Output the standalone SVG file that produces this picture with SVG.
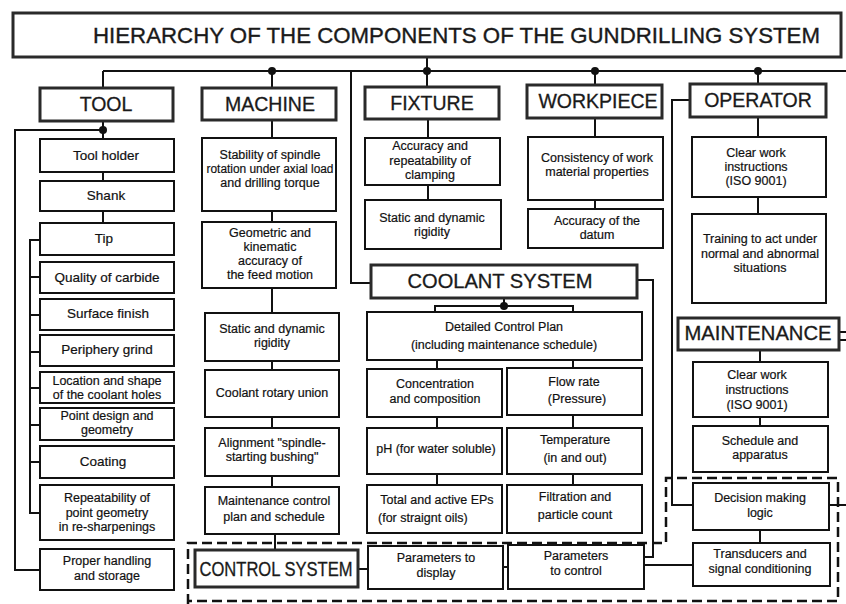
<svg xmlns="http://www.w3.org/2000/svg" width="846" height="604" viewBox="0 0 846 604">
<style>
.hdr{fill:#fff;stroke:#2a2a2a;stroke-width:3}
.box{fill:#fff;stroke:#111;stroke-width:2}
.ht{font-family:"Liberation Sans",Arial,sans-serif;font-size:19.5px;fill:#1a1a1a;stroke:#1a1a1a;stroke-width:0.3;text-anchor:middle}
.t{font-family:"Liberation Sans",Arial,sans-serif;font-size:12.5px;fill:#111;stroke:#111;stroke-width:0.2;text-anchor:middle}
.tb{font-family:"Liberation Sans",Arial,sans-serif;font-size:13.5px;fill:#111;stroke:#111;stroke-width:0.2;text-anchor:middle}
.ln{fill:none;stroke:#111;stroke-width:2}
.dash{fill:none;stroke:#111;stroke-width:2.5;stroke-dasharray:10 5}
.dot{fill:#111}
</style>
<rect width="846" height="604" fill="#fff"/>

<g id="connectors">
  <path class="ln" d="M103 71H846"/>
  <path class="ln" d="M427 57V87"/>
  <path class="ln" d="M103 71V88M272 71V88M595 71V85M758 71V84"/>
  <path class="ln" d="M351 71V283H371"/>
  <circle class="dot" cx="272" cy="71" r="4"/>
  <circle class="dot" cx="427" cy="71" r="4"/>
  <circle class="dot" cx="595" cy="71" r="4"/>
  <circle class="dot" cx="758" cy="71" r="4"/>
  <path class="ln" d="M103 121V139M103 172V181M103 211V223"/>
  <circle class="dot" cx="103" cy="130" r="4"/>
  <path class="ln" d="M103 130H15V570H40"/>
  <path class="ln" d="M40 240H30V513H40M30 277H40M30 315H40M30 352H40M30 388H40M30 425H40M30 462H40"/>
  <path class="ln" d="M272 120V138M272 211V222M272 288V313M272 361V370M272 417V428M272 476V487M275 534V550"/>
  <path class="ln" d="M428 119V138M428 185V200"/>
  <path class="ln" d="M595 118V137M595 200V209"/>
  <path class="ln" d="M758 117V137M758 197V214"/>
  <path class="ln" d="M690 100H672V505H693"/>
  <path class="ln" d="M504 298V306M435 312V306H573V312"/>
  <circle class="dot" cx="504" cy="306" r="4"/>
  <path class="ln" d="M437 360V369M437 417V428M437 474V485M573 360V368M573 415V428M573 474V485"/>
  <path class="ln" d="M637 280H653V557H644"/>
  <path class="ln" d="M644 565H693"/>
  <path class="ln" d="M358 569H368M503 567H508"/>
  <path class="ln" d="M839 332H846M839 340H846"/>
  <path class="ln" d="M760 350V362M760 417V426"/>
  <path class="ln" d="M760 530V543M829 505H846"/>
  <path class="dash" d="M188 604V543H666V478H838V601H188"/>
</g>

<g id="title">
  <rect class="hdr" x="13" y="13" width="828" height="44"/>
  <text x="93" y="43" font-family="Liberation Sans,Arial,sans-serif" font-size="22" fill="#1a1a1a" stroke="#1a1a1a" stroke-width="0.35" textLength="727" lengthAdjust="spacingAndGlyphs">HIERARCHY OF THE COMPONENTS OF THE GUNDRILLING SYSTEM</text>
</g>

<g id="tool">
  <rect class="hdr" x="40" y="88" width="133" height="33"/>
  <text class="ht" x="106" y="111">TOOL</text>
</g>
<g id="machine">
  <rect class="hdr" x="202" y="88" width="134" height="32"/>
  <text class="ht" x="270" y="111">MACHINE</text>
</g>
<g id="fixture">
  <rect class="hdr" x="365" y="87" width="134" height="32"/>
  <text class="ht" x="432" y="110">FIXTURE</text>
</g>
<g id="workpiece">
  <rect class="hdr" x="527" y="85" width="135" height="33"/>
  <text class="ht" x="598" y="108">WORKPIECE</text>
</g>
<g id="operator">
  <rect class="hdr" x="690" y="84" width="136" height="33"/>
  <text class="ht" x="758" y="107">OPERATOR</text>
</g>

<g id="tool-holder"><rect class="box" x="40" y="139" width="134" height="33"/><text class="tb" x="106" y="160">Tool holder</text></g>
<g id="shank"><rect class="box" x="40" y="181" width="134" height="30"/><text class="tb" x="106" y="200">Shank</text></g>
<g id="tip"><rect class="box" x="40" y="223" width="134" height="32"/><text class="tb" x="104" y="243">Tip</text></g>
<g id="quality"><rect class="box" x="40" y="262" width="134" height="31"/><text class="tb" x="107" y="282">Quality of carbide</text></g>
<g id="surface"><rect class="box" x="40" y="299" width="134" height="31"/><text class="tb" x="108" y="318">Surface finish</text></g>
<g id="periphery"><rect class="box" x="40" y="335" width="134" height="31"/><text class="tb" x="107" y="354">Periphery grind</text></g>
<g id="location"><rect class="box" x="40" y="372" width="134" height="31"/><text class="t" x="107" y="385">Location and shape</text><text class="t" x="107" y="399">of the coolant holes</text></g>
<g id="point-design"><rect class="box" x="40" y="408" width="134" height="32"/><text class="t" x="107" y="420">Point design and</text><text class="t" x="107" y="434">geometry</text></g>
<g id="coating"><rect class="box" x="40" y="446" width="134" height="32"/><text class="tb" x="103" y="466">Coating</text></g>
<g id="repeatability"><rect class="box" x="40" y="485" width="134" height="55"/><text class="t" x="107" y="502">Repeatability of</text><text class="t" x="107" y="517">point geometry</text><text class="t" x="107" y="531">in re-sharpenings</text></g>
<g id="handling"><rect class="box" x="40" y="549" width="134" height="41"/><text class="t" x="107" y="565">Proper handling</text><text class="t" x="107" y="580">and storage</text></g>

<g id="stability"><rect class="box" x="202" y="138" width="134" height="73"/><text class="t" x="270" y="159">Stability of spindle</text><text class="t" x="270" y="173" textLength="127" lengthAdjust="spacingAndGlyphs">rotation under axial load</text><text class="t" x="270" y="187">and drilling torque</text></g>
<g id="geometric"><rect class="box" x="202" y="222" width="134" height="66"/><text class="t" x="270" y="237">Geometric and</text><text class="t" x="270" y="251">kinematic</text><text class="t" x="270" y="265">accuracy of</text><text class="t" x="270" y="279">the feed motion</text></g>
<g id="m-rigidity"><rect class="box" x="205" y="313" width="134" height="48"/><text class="t" x="272" y="333">Static and dynamic</text><text class="t" x="272" y="347">rigidity</text></g>
<g id="rotary-union"><rect class="box" x="205" y="370" width="134" height="47"/><text class="t" x="272" y="397">Coolant rotary union</text></g>
<g id="alignment"><rect class="box" x="205" y="428" width="134" height="48"/><text class="t" x="272" y="447">Alignment "spindle-</text><text class="t" x="272" y="461">starting bushing"</text></g>
<g id="maint-plan"><rect class="box" x="205" y="487" width="134" height="47"/><text class="t" x="274" y="505">Maintenance control</text><text class="t" x="274" y="521">plan and schedule</text></g>

<g id="clamping"><rect class="box" x="365" y="138" width="135" height="47"/><text class="t" x="430" y="150">Accuracy and</text><text class="t" x="430" y="165">repeatability of</text><text class="t" x="430" y="179">clamping</text></g>
<g id="f-rigidity"><rect class="box" x="365" y="200" width="136" height="49"/><text class="t" x="432" y="222">Static and dynamic</text><text class="t" x="432" y="236">rigidity</text></g>

<g id="consistency"><rect class="box" x="528" y="137" width="135" height="63"/><text class="t" x="597" y="162">Consistency of work</text><text class="t" x="597" y="176">material properties</text></g>
<g id="datum"><rect class="box" x="528" y="209" width="135" height="39"/><text class="t" x="597" y="225">Accuracy of the</text><text class="t" x="597" y="239">datum</text></g>

<g id="op-instructions"><rect class="box" x="692" y="137" width="134" height="60"/><text class="t" x="756" y="157">Clear work</text><text class="t" x="756" y="171">instructions</text><text class="t" x="756" y="185">(ISO 9001)</text></g>
<g id="training"><rect class="box" x="692" y="214" width="134" height="89"/><text class="t" x="760" y="243">Training to act under</text><text class="t" x="760" y="258">normal and abnormal</text><text class="t" x="760" y="272">situations</text></g>

<g id="coolant-system">
  <rect class="hdr" x="371" y="265" width="266" height="33"/>
  <text class="ht" x="500" y="288" textLength="185" lengthAdjust="spacingAndGlyphs" font-size="21">COOLANT SYSTEM</text>
</g>
<g id="control-plan"><rect class="box" x="367" y="312" width="275" height="48"/><text class="t" x="504" y="331">Detailed Control Plan</text><text class="t" x="504" y="349">(including maintenance schedule)</text></g>
<g id="concentration"><rect class="box" x="367" y="369" width="135" height="48"/><text class="t" x="435" y="388">Concentration</text><text class="t" x="435" y="403">and composition</text></g>
<g id="flow-rate"><rect class="box" x="507" y="368" width="135" height="47"/><text class="t" x="574" y="386">Flow rate</text><text class="t" x="577" y="403">(Pressure)</text></g>
<g id="ph"><rect class="box" x="367" y="428" width="135" height="46"/><text class="t" x="436" y="453">pH (for water soluble)</text></g>
<g id="temperature"><rect class="box" x="507" y="428" width="135" height="46"/><text class="t" x="575" y="444">Temperature</text><text class="t" x="575" y="462">(in and out)</text></g>
<g id="eps"><rect class="box" x="367" y="485" width="135" height="48"/><text class="t" x="437" y="504">Total and active EPs</text><text class="t" x="378" y="522" style="text-anchor:start">(for straignt oils)</text></g>
<g id="filtration"><rect class="box" x="507" y="485" width="135" height="48"/><text class="t" x="575" y="501">Filtration and</text><text class="t" x="575" y="519">particle count</text></g>

<g id="control-system">
  <rect class="hdr" x="195" y="550" width="163" height="37"/>
  <text class="ht" x="276" y="576" font-size="17" textLength="153" lengthAdjust="spacingAndGlyphs">CONTROL SYSTEM</text>
</g>
<g id="param-display"><rect class="box" x="368" y="546" width="135" height="43"/><text class="t" x="436" y="562">Parameters to</text><text class="t" x="436" y="577">display</text></g>
<g id="param-control"><rect class="box" x="508" y="545" width="136" height="44"/><text class="t" x="576" y="560">Parameters</text><text class="t" x="576" y="575">to control</text></g>

<g id="maintenance">
  <rect class="hdr" x="678" y="318" width="161" height="32"/>
  <text class="ht" x="758" y="340" font-size="20" textLength="147" lengthAdjust="spacingAndGlyphs">MAINTENANCE</text>
</g>
<g id="m-instructions"><rect class="box" x="693" y="362" width="135" height="55"/><text class="t" x="757" y="379">Clear work</text><text class="t" x="757" y="394">instructions</text><text class="t" x="757" y="409">(ISO 9001)</text></g>
<g id="schedule"><rect class="box" x="693" y="426" width="135" height="46"/><text class="t" x="760" y="445">Schedule and</text><text class="t" x="760" y="459">apparatus</text></g>
<g id="decision"><rect class="box" x="693" y="483" width="136" height="47"/><text class="t" x="760" y="502">Decision making</text><text class="t" x="760" y="517">logic</text></g>
<g id="transducers"><rect class="box" x="693" y="543" width="137" height="43"/><text class="t" x="760" y="558">Transducers and</text><text class="t" x="760" y="573">signal conditioning</text></g>
</svg>
